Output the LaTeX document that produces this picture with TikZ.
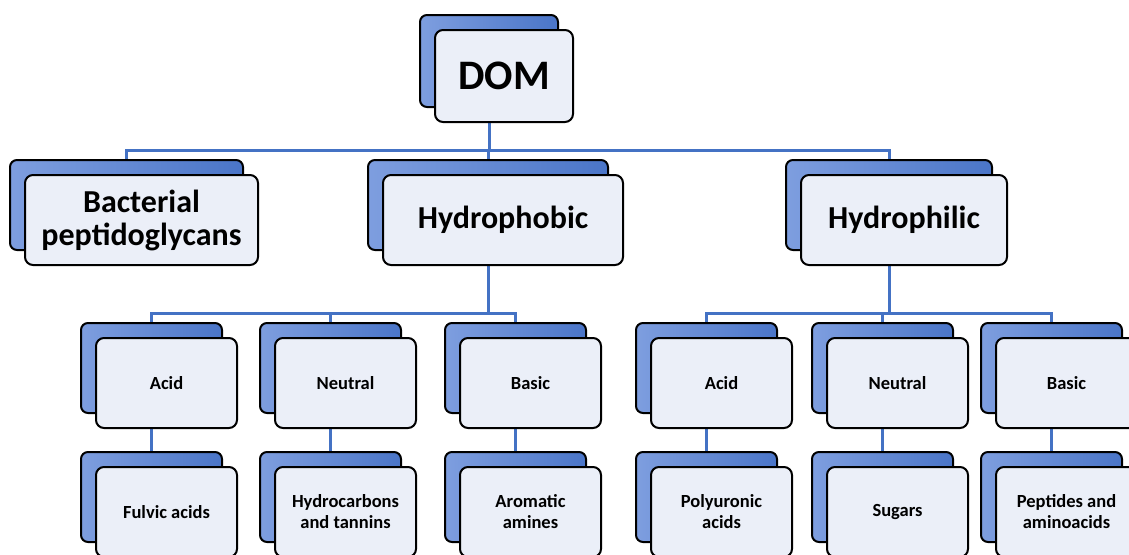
\documentclass[tikz,border=0pt]{standalone}
\usepackage{fontspec}
\setmainfont{Carlito}
\usetikzlibrary{calc}
\pgfdeclarelayer{background}
\pgfsetlayers{background,main}
\definecolor{lineblue}{HTML}{4472C4}
\definecolor{backtop}{HTML}{7E9EDF}
\definecolor{backbot}{HTML}{4A75C8}
\definecolor{frontfill}{HTML}{EBEFF8}
\tikzset{
  backbox/.style={draw=black, line width=2pt, rounded corners=7pt,
    left color=backtop, right color=backbot, inner sep=0pt},
  frontbox/.style={draw=black, line width=2pt, rounded corners=8pt,
    fill=frontfill, inner sep=0pt, align=center, text=black},
  conn/.style={draw=lineblue, line width=3pt},
  lvlA/.style={font=\fontsize{42}{46}\selectfont\bfseries},
  lvlB/.style={font=\fontsize{32}{33}\selectfont\bfseries},
  lvlC/.style={font=\fontsize{18.5}{21}\selectfont\bfseries},
}
% #1 name, #2 x, #3 y (top-left of back box), #4 width, #5 height, #6 style, #7 text
\newcommand\tbox[7]{%
  \node[backbox, minimum width=#4, minimum height=#5] (#1-b) at ({#2+#4/2},{#3+#5/2}) {};
  \node[frontbox, #6, minimum width=#4, minimum height=#5] (#1) at ({#2+15+#4/2},{#3+15+#5/2}) {#7};
}
\begin{document}
\begin{tikzpicture}[x=1pt,y=-1pt]
\useasboundingbox (0,0) rectangle (1129,554);
% level 1
\tbox{dom}{420}{15}{138}{92}{lvlA}{DOM}
% level 2
\tbox{bact}{10}{160}{233}{90}{lvlB}{Bacterial\\peptidoglycans}
\tbox{hphob}{368}{160}{240}{90}{lvlB}{Hydrophobic}
\tbox{hphil}{786}{160}{206}{90}{lvlB}{Hydrophilic}
% level 3
\tbox{acidA}{81}{323}{141}{90}{lvlC}{Acid}
\tbox{neutA}{260}{323}{141}{90}{lvlC}{Neutral}
\tbox{basA}{445}{323}{141}{90}{lvlC}{Basic}
\tbox{acidB}{636}{323}{141}{90}{lvlC}{Acid}
\tbox{neutB}{812}{323}{141}{90}{lvlC}{Neutral}
\tbox{basB}{981}{323}{141}{90}{lvlC}{Basic}
% level 4
\tbox{fulv}{81}{452}{141}{90}{lvlC}{Fulvic acids}
\tbox{hydro}{260}{452}{141}{90}{lvlC}{Hydrocarbons\\and tannins}
\tbox{arom}{445}{452}{141}{90}{lvlC}{Aromatic\\amines}
\tbox{poly}{636}{452}{141}{90}{lvlC}{Polyuronic\\acids}
\tbox{sug}{812}{452}{141}{90}{lvlC}{Sugars}
\tbox{pept}{981}{452}{141}{90}{lvlC}{Peptides and\\aminoacids}
% bus coordinates
\coordinate (bus0) at (488,150);
\coordinate (bus1) at (488,313);
\coordinate (bus2) at (888,313);
\begin{pgfonlayer}{background}
\fill[white] (0,0) rectangle (1129,554);
\draw[conn] (dom-b.south) -- (dom-b.south |- bus0);
\draw[conn] (dom-b.south |- bus0) -| (bact-b.north);
\draw[conn] (dom-b.south |- bus0) -| (hphob-b.north);
\draw[conn] (dom-b.south |- bus0) -| (hphil-b.north);
\draw[conn] (hphob-b.south) -- (hphob-b.south |- bus1);
\draw[conn] (hphob-b.south |- bus1) -| (acidA-b.north);
\draw[conn] (hphob-b.south |- bus1) -| (neutA-b.north);
\draw[conn] (hphob-b.south |- bus1) -| (basA-b.north);
\draw[conn] (hphil-b.south) -- (hphil-b.south |- bus2);
\draw[conn] (hphil-b.south |- bus2) -| (acidB-b.north);
\draw[conn] (hphil-b.south |- bus2) -| (neutB-b.north);
\draw[conn] (hphil-b.south |- bus2) -| (basB-b.north);
\draw[conn] (acidA-b.south) -- (fulv-b.north);
\draw[conn] (neutA-b.south) -- (hydro-b.north);
\draw[conn] (basA-b.south) -- (arom-b.north);
\draw[conn] (acidB-b.south) -- (poly-b.north);
\draw[conn] (neutB-b.south) -- (sug-b.north);
\draw[conn] (basB-b.south) -- (pept-b.north);
\end{pgfonlayer}
\end{tikzpicture}
\end{document}
